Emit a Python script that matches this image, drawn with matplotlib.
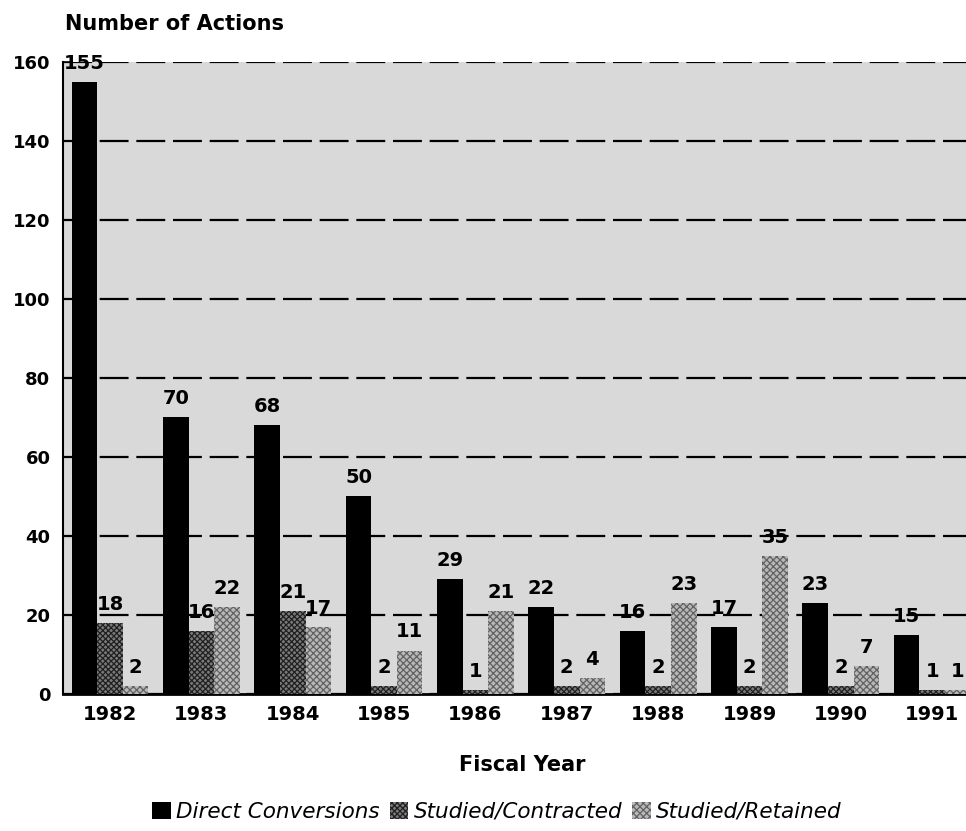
import matplotlib
matplotlib.use("Agg")
import matplotlib.pyplot as plt
import numpy as np

years = ["1982", "1983", "1984", "1985", "1986", "1987", "1988", "1989", "1990", "1991"]
direct = [155, 70, 68, 50, 29, 22, 16, 17, 23, 15]
contracted = [18, 16, 21, 2, 1, 2, 2, 2, 2, 1]
retained = [2, 22, 17, 11, 21, 4, 23, 35, 7, 1]
series_names = ["Direct Conversions", "Studied/Contracted", "Studied/Retained"]
yticks = [0, 20, 40, 60, 80, 100, 120, 140, 160]

plt.rcParams['font.family'] = ['DejaVu Sans']
plt.rcParams['hatch.linewidth'] = 0.9

fig = plt.figure(figsize=(9.66, 8.31), dpi=100)
ax = fig.add_axes([0.0652, 0.1649, 0.9348, 0.7605])
ax.set_facecolor('#d9d9d9')

x = np.arange(len(years))
w = 0.28
styles = [
    dict(color='black'),
    dict(facecolor='#7a7a7a', edgecolor='#202020', hatch='xxxxxx', linewidth=0),
    dict(facecolor='#b8b8b8', edgecolor='#626262', hatch='xxxxx', linewidth=0),
]
bars = []
for i, (vals, st) in enumerate(zip([direct, contracted, retained], styles)):
    b = ax.bar(x + (i - 1) * w, vals, w, label=series_names[i], zorder=3, **st)
    bars.append(b)
    for xi, v in zip(x + (i - 1) * w, vals):
        ax.text(xi, v + 3.3, str(v), ha='center', va='baseline', fontsize=14,
                fontweight='bold', zorder=4)

ax.set_xlim(-0.515, 9.37)
ax.set_ylim(0, 160)
ax.set_yticks(yticks)
ax.set_yticklabels([str(t) for t in yticks], fontsize=13, fontweight='bold')
ax.set_xticks(x)
ax.set_xticklabels(years, fontsize=14, fontweight='bold')
ax.tick_params(axis='x', length=0, pad=8)
ax.tick_params(axis='y', length=5, width=1.2, direction='in', pad=9)
ax.yaxis.grid(True, linestyle=(0, (13, 3.5)), color='black', linewidth=1.6, zorder=1)
ax.set_axisbelow(True)
for s in ['top', 'right']:
    ax.spines[s].set_visible(False)
ax.spines['left'].set_linewidth(1.5)
ax.spines['bottom'].set_linewidth(2.0)

fig.text(65 / 966, 0.971, "Number of Actions", fontsize=15, fontweight='bold',
         ha='left', va='center')
fig.text(0.541, 0.0794, "Fiscal Year", fontsize=15, fontweight='bold',
         ha='center', va='center')
fig.legend(handles=bars, labels=series_names, loc='center', bbox_to_anchor=(0.5145, 0.023),
           ncol=3, frameon=False, prop=dict(size=15.5, style='italic'),
           handlelength=0.85, handleheight=0.85, handletextpad=0.25, columnspacing=0.47)

fig.savefig("out.png", dpi=100)
